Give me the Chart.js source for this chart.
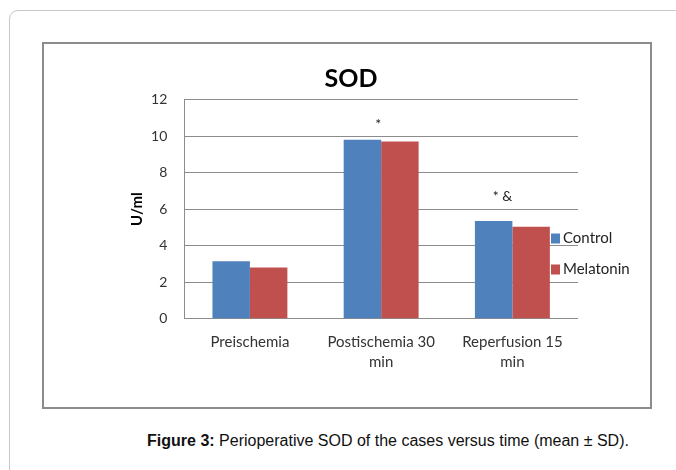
<!DOCTYPE html>
<html>
<head>
<meta charset="utf-8">
<script src="https://cdn.jsdelivr.net/npm/chart.js@4.4.1/dist/chart.umd.min.js"></script>
<style>
    body { margin: 0; background: #fff; width: 676px; height: 470px; overflow: hidden; position: relative; }
    #frame { position: absolute; left: 9px; top: 10px; width: 740px; height: 540px; border: 1px solid #c8c8c8; border-radius: 9px; }
    #box { position: absolute; left: 42px; top: 42px; width: 606px; height: 363px; border: 2px solid #8c8c8c; background: #fff; }
    #caption { position: absolute; left: 88px; width: 600px; top: 432px; text-align: center; font-family: "Liberation Sans", Arial, sans-serif; font-size: 16px; color: #111; white-space: nowrap; }
</style>
</head>
<body>
<div id="frame"></div>
<div id="box"><canvas id="myChart" width="606" height="363"></canvas></div>
<div id="caption"><b>Figure 3:</b> Perioperative SOD of the cases versus time (mean ± SD).</div>
<script>
const categories = [['Preischemia'], ['Postischemia 30', 'min'], ['Reperfusion 15', 'min']];
const seriesNames = ['Control', 'Melatonin'];
const controlValues = [3.15, 9.8, 5.35];
const melatoninValues = [2.8, 9.7, 5.03];
const yTicks = [0, 2, 4, 6, 8, 10, 12];
// significance marks: text, category index, value height
const markLabels = ['*', '* &'];
const markCategory = [1, 2];
const markValue = [10.65, 6.7];

const colors = ['#4F81BD', '#C0504D'];
const FONT = 'Lato, "Open Sans", sans-serif';

// legend drawn inside the plot like the original (overlapping the grid)
const sideLegend = {
    id: 'sideLegend',
    afterDraw(chart) {
        const ctx = chart.ctx;
        const area = chart.chartArea;
        ctx.save();
        ctx.font = '15px ' + FONT;
        ctx.textBaseline = 'middle';
        chart.data.datasets.forEach((ds, i) => {
            const x = area.right - 27;
            const y = area.top + 139 + i * 31;
            ctx.fillStyle = ds.backgroundColor;
            ctx.fillRect(x, y - 5, 9, 10);
            ctx.fillStyle = '#222';
            ctx.fillText(ds.label, x + 12, y);
        });
        ctx.restore();
    }
};

const marks = {
    id: 'marks',
    afterDatasetsDraw(chart) {
        const ctx = chart.ctx;
        const xs = chart.scales.x, ys = chart.scales.y;
        const dx = [-3, -10];
        ctx.save();
        ctx.font = '14px ' + FONT;
        ctx.fillStyle = '#222';
        ctx.textAlign = 'center';
        ctx.textBaseline = 'middle';
        markLabels.forEach((t, i) => {
            ctx.fillText(t, xs.getPixelForValue(markCategory[i]) + dx[i], ys.getPixelForValue(markValue[i]));
        });
        ctx.restore();
    }
};

const ctx = document.getElementById('myChart').getContext('2d');
new Chart(ctx, {
    type: 'bar',
    data: {
        labels: categories,
        datasets: [
            { label: seriesNames[0], data: controlValues, backgroundColor: colors[0] },
            { label: seriesNames[1], data: melatoninValues, backgroundColor: colors[1] }
        ]
    },
    options: {
        responsive: false,
        animation: false,
        categoryPercentage: 0.571,
        barPercentage: 1,
        layout: { padding: { left: 80, right: 72, top: 0, bottom: 0 } },
        plugins: {
            legend: { display: false },
            tooltip: { enabled: false },
            title: {
                display: true,
                text: 'SOD',
                color: '#000',
                font: { family: FONT, size: 25, weight: 'bold' },
                padding: { top: 20, bottom: 5.5 }
            }
        },
        scales: {
            x: {
                grid: { display: false },
                border: { display: false },
                ticks: { color: '#333', font: { family: FONT, size: 15, lineHeight: 1.3 }, padding: 6, maxRotation: 0 },
                afterFit: s => { s.height = 88.3; }
            },
            y: {
                min: 0,
                max: 12,
                afterBuildTicks: s => { s.ticks = yTicks.map(v => ({ value: v })); },
                grid: { color: '#8c8c8c', drawTicks: false },
                border: { color: '#8c8c8c' },
                ticks: { color: '#333', font: { family: FONT, size: 14 }, padding: 17 },
                title: { display: true, text: 'U/ml', color: '#000', font: { family: FONT, size: 15, weight: 'bold' }, padding: { top: 4, bottom: 0 } },
                afterFit: s => { s.width = 60.3; }
            }
        }
    },
    plugins: [sideLegend, marks]
});
</script>
</body>
</html>
